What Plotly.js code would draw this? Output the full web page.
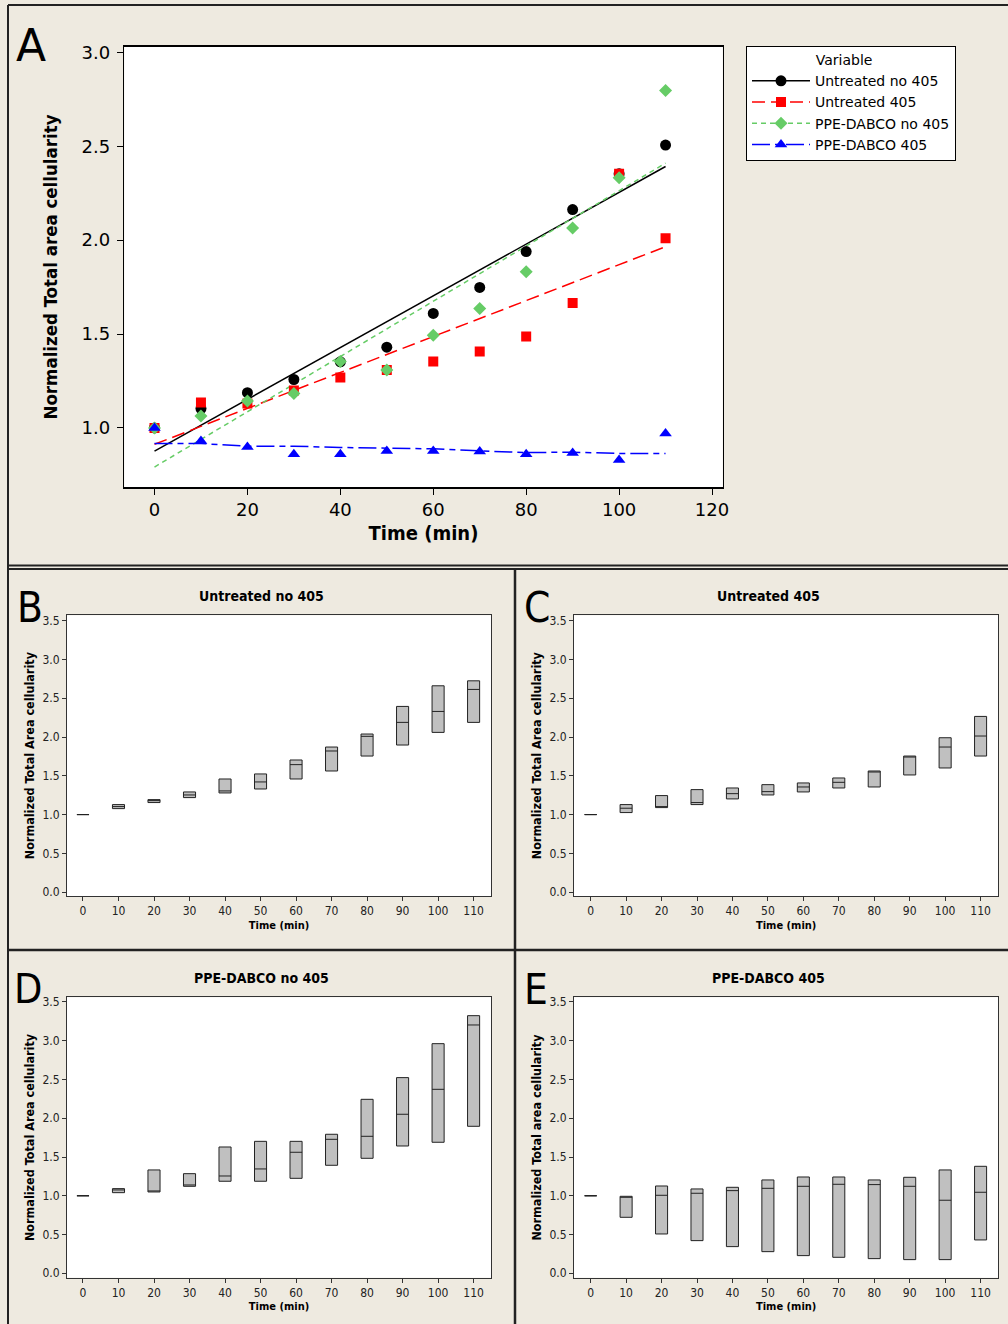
<!DOCTYPE html>
<html><head><meta charset="utf-8">
<script src="https://cdn.plot.ly/plotly-3.0.1.min.js"></script>
<style>html,body{margin:0;padding:0;background:#EEEAE0;} #chart{width:1008px;height:1324px;}</style>
</head><body><div id="chart"></div>
<script>
// ---------- Panel A data ----------
const times = [0,10,20,30,40,50,60,70,80,90,100,110];
const seriesNames = ['Untreated no 405','Untreated 405','PPE-DABCO no 405','PPE-DABCO 405'];
const untreatedNo405 = [1.0,1.103,1.188,1.258,1.352,1.430,1.610,1.748,1.939,2.163,2.353,2.506];
const untreated405   = [1.0,1.135,1.130,1.200,1.268,1.308,1.354,1.407,1.487,1.665,2.353,2.010];
const ppeNo405       = [1.0,1.064,1.144,1.183,1.354,1.308,1.494,1.636,1.832,2.065,2.332,2.797];
const ppe405         = [1.0,0.930,0.899,0.860,0.860,0.877,0.877,0.874,0.860,0.867,0.830,0.970];
// fitted lines
const fitTimes = [0,110];
const fitUntreatedNo405 = [0.877,2.392];
const fitUntreated405   = [0.913,1.965];
const fitPpeNo405       = [0.792,2.410];
const smoothPpe405      = [0.917,0.917,0.903,0.903,0.896,0.891,0.889,0.878,0.869,0.871,0.864,0.864];

// ---------- Panels B-E data (box: upper, median, lower) ----------
const bUpper = [1.0,1.129,1.193,1.292,1.459,1.524,1.704,1.871,2.039,2.395,2.661,2.725];
const bMed   = [1.0,1.103,1.185,1.253,1.305,1.421,1.644,1.820,2.009,2.189,2.330,2.614];
const bLower = [1.0,1.077,1.155,1.219,1.279,1.330,1.459,1.562,1.755,1.897,2.060,2.189];

const cUpper = [1.0,1.129,1.245,1.322,1.343,1.386,1.408,1.472,1.562,1.755,1.991,2.266];
const cMed   = [1.0,1.082,1.090,1.155,1.270,1.296,1.356,1.416,1.549,1.747,1.871,2.013];
const cLower = [1.0,1.026,1.090,1.129,1.202,1.253,1.292,1.343,1.356,1.511,1.601,1.755];

const dUpper = [1.0,1.092,1.333,1.285,1.629,1.702,1.702,1.793,2.244,2.524,2.962,3.323];
const dMed   = [1.0,1.075,1.058,1.139,1.255,1.346,1.561,1.728,1.767,2.051,2.373,3.203];
const dLower = [1.0,1.040,1.049,1.122,1.187,1.187,1.225,1.393,1.483,1.642,1.690,1.896];

const eUpper = [1.0,0.993,1.126,1.088,1.109,1.204,1.242,1.242,1.204,1.238,1.333,1.380];
const eMed   = [1.0,0.993,1.006,1.032,1.066,1.096,1.122,1.148,1.144,1.122,0.942,1.045];
const eLower = [1.0,0.722,0.507,0.421,0.344,0.279,0.228,0.206,0.189,0.176,0.176,0.430];

const panelTitles = ['Untreated no 405','Untreated 405','PPE-DABCO no 405','PPE-DABCO 405'];
const panelYTitles = ['Normalized Total Area cellularity','Normalized Total Area cellularity',
                      'Normalized Total Area cellularity','Normalized Total area cellularity'];
const xTickVals = [0,10,20,30,40,50,60,70,80,90,100,110];
const yTickVals = [0,0.5,1,1.5,2,2.5,3,3.5];

// ---------- styling ----------
const W = 1008, H = 1324;
const px = v => v / W;
const py = v => 1 - v / H;
const FA = 'DejaVu Sans, Verdana, sans-serif';
const FC = 'DejaVu Sans Condensed, Liberation Sans Narrow, Arial Narrow, sans-serif';
const colors = ['#000000','#FF0000','#66CC66','#0000FF'];
const symbols = ['circle','square','diamond','triangle-up'];
const sizes = [11,10,10,11];
const dashes = ['solid','13px,6px','5px,4px','18px,5px,6px,5px'];

const series = [untreatedNo405, untreated405, ppeNo405, ppe405];
const fits = [[fitTimes,fitUntreatedNo405],[fitTimes,fitUntreated405],[fitTimes,fitPpeNo405],[times,smoothPpe405]];

const traces = [];
fits.forEach((f,i)=>{
  traces.push({type:'scatter',mode:'lines',x:f[0],y:f[1],xaxis:'x',yaxis:'y',
    line:{color:colors[i],width:1.5,dash:dashes[i]},showlegend:false,hoverinfo:'skip'});
});
series.forEach((s,i)=>{
  traces.push({type:'scatter',mode:'markers',x:times,y:s,xaxis:'x',yaxis:'y',name:seriesNames[i],
    marker:{color:colors[i],symbol:symbols[i],size:sizes[i]},showlegend:false});
});
seriesNames.forEach((n,i)=>{
  traces.push({type:'scatter',mode:'lines+markers',x:[null],y:[null],xaxis:'x',yaxis:'y',name:n,
    line:{color:colors[i],width:1.5,dash:dashes[i]},
    marker:{color:colors[i],symbol:symbols[i],size:sizes[i]},showlegend:true});
});

const boxSets = [[bUpper,bMed,bLower],[cUpper,cMed,cLower],[dUpper,dMed,dLower],[eUpper,eMed,eLower]];
boxSets.forEach((b,i)=>{
  traces.push({type:'box',x:times,q1:b[2],median:b[1],q3:b[0],lowerfence:b[2],upperfence:b[0],
    xaxis:'x'+(i+2),yaxis:'y'+(i+2),width:3.4,whiskerwidth:0,boxpoints:false,
    fillcolor:'#C0C0C0',line:{color:'#222222',width:1},showlegend:false,name:panelTitles[i]});
});

const layout = {
  width: W, height: H,
  margin:{l:0,r:0,t:0,b:0},
  paper_bgcolor:'#EEEAE0', plot_bgcolor:'#FFFFFF',
  showlegend:true,
  legend:{x:px(746),y:py(46),xanchor:'left',yanchor:'top',bgcolor:'#FFFFFF',bordercolor:'#000000',borderwidth:1,
    font:{family:FA,size:14,color:'#000'},itemwidth:58,tracegroupgap:0,
    title:{text:'\u00A0\u00A0\u00A0\u00A0\u00A0\u00A0\u00A0\u00A0\u00A0\u00A0\u00A0\u00A0\u00A0\u00A0\u00A0Variable',font:{family:FA,size:14,color:'#000'}}},
  xaxis:{domain:[px(124.3),px(722.7)],range:[-6.5,122.3],tickmode:'array',tickvals:[0,20,40,60,80,100,120],
    ticks:'outside',ticklen:6,tickcolor:'#000',showline:true,mirror:true,linecolor:'#000',linewidth:1.5,
    showgrid:false,zeroline:false,tickfont:{family:FA,size:18,color:'#000'},
    title:{text:'Time (min)',font:{family:FC,size:20,color:'#000',weight:700},standoff:6}},
  yaxis:{domain:[py(487.3),py(46.7)],range:[0.684,3.03],tickmode:'array',tickvals:[1,1.5,2,2.5,3],tickformat:'.1f',
    ticks:'outside',ticklen:6,tickcolor:'#000',showline:true,mirror:true,linecolor:'#000',linewidth:1.5,
    showgrid:false,zeroline:false,tickfont:{family:FA,size:18,color:'#000'},ticklabelstandoff:3,
    title:{text:'Normalized Total area cellularity',font:{family:FC,size:18.5,color:'#000',weight:700},standoff:19}},
  annotations:[], shapes:[]
};

const subDomains = [
  {x:[67,491], y:[615.3,896], xr:[-4.5,114.9], yr:[-0.05,3.57]},
  {x:[574,998.3], y:[615.3,896], xr:[-4.7,115], yr:[-0.05,3.57]},
  {x:[67,491], y:[997.3,1277.7], xr:[-4.5,114.9], yr:[-0.057,3.56]},
  {x:[574,998.3], y:[997.3,1277.7], xr:[-4.7,115], yr:[-0.057,3.56]}
];
subDomains.forEach((d,i)=>{
  const k = i+2;
  layout['xaxis'+k] = {domain:[px(d.x[0]),px(d.x[1])],range:d.xr,anchor:'y'+k,tickmode:'array',tickvals:xTickVals,
    ticks:'outside',ticklen:4,tickcolor:'#333',showline:true,mirror:true,linecolor:'#333',linewidth:1,
    showgrid:false,zeroline:false,tickfont:{family:FC,size:12,color:'#222'},
    title:{text:'Time (min)',font:{family:FC,size:11,color:'#000',weight:700},standoff:3}};
  layout['yaxis'+k] = {domain:[py(d.y[1]),py(d.y[0])],range:d.yr,anchor:'x'+k,tickmode:'array',tickvals:yTickVals,tickformat:'.1f',
    ticks:'outside',ticklen:4,tickcolor:'#333',showline:true,mirror:true,linecolor:'#333',linewidth:1,
    showgrid:false,zeroline:false,tickfont:{family:FC,size:12,color:'#222'},
    title:{text:panelYTitles[i],font:{family:FC,size:12.5,color:'#000',weight:700},standoff:5}};
  layout.annotations.push({xref:'paper',yref:'paper',x:px((d.x[0]+d.x[1])/2 - 18),y:py(d.y[0]-19),xanchor:'center',yanchor:'middle',
    text:panelTitles[i],showarrow:false,font:{family:FC,size:14,color:'#000',weight:700}});
});

// panel letters
[['A',14,46,FA,44],['B',15,608,FC,42],['C',522,608,FC,42],['D',12,989,FC,41],['E',522,989,FC,42]].forEach(l=>{
  layout.annotations.push({xref:'paper',yref:'paper',x:px(l[1]),y:py(l[2]),xanchor:'left',yanchor:'middle',
    text:l[0],showarrow:false,font:{family:l[3],size:l[4],color:'#000'}});
});

// panel frames
const ln = (x0,y0,x1,y1,w)=>({type:'line',xref:'paper',yref:'paper',x0:px(x0),y0:py(y0),x1:px(x1),y1:py(y1),line:{color:'#222',width:w}});
layout.shapes.push(ln(8,5,1008,5,2));
layout.shapes.push(ln(8,5,8,1324,2));
layout.shapes.push(ln(8,565.5,1008,565.5,2));
layout.shapes.push(ln(8,569,1008,569,2));
layout.shapes.push(ln(515,569,515,1324,2.5));
layout.shapes.push(ln(8,950,1008,950,2.5));

Plotly.newPlot('chart', traces, layout, {displayModeBar:false, staticPlot:true});
</script>
</body></html>
